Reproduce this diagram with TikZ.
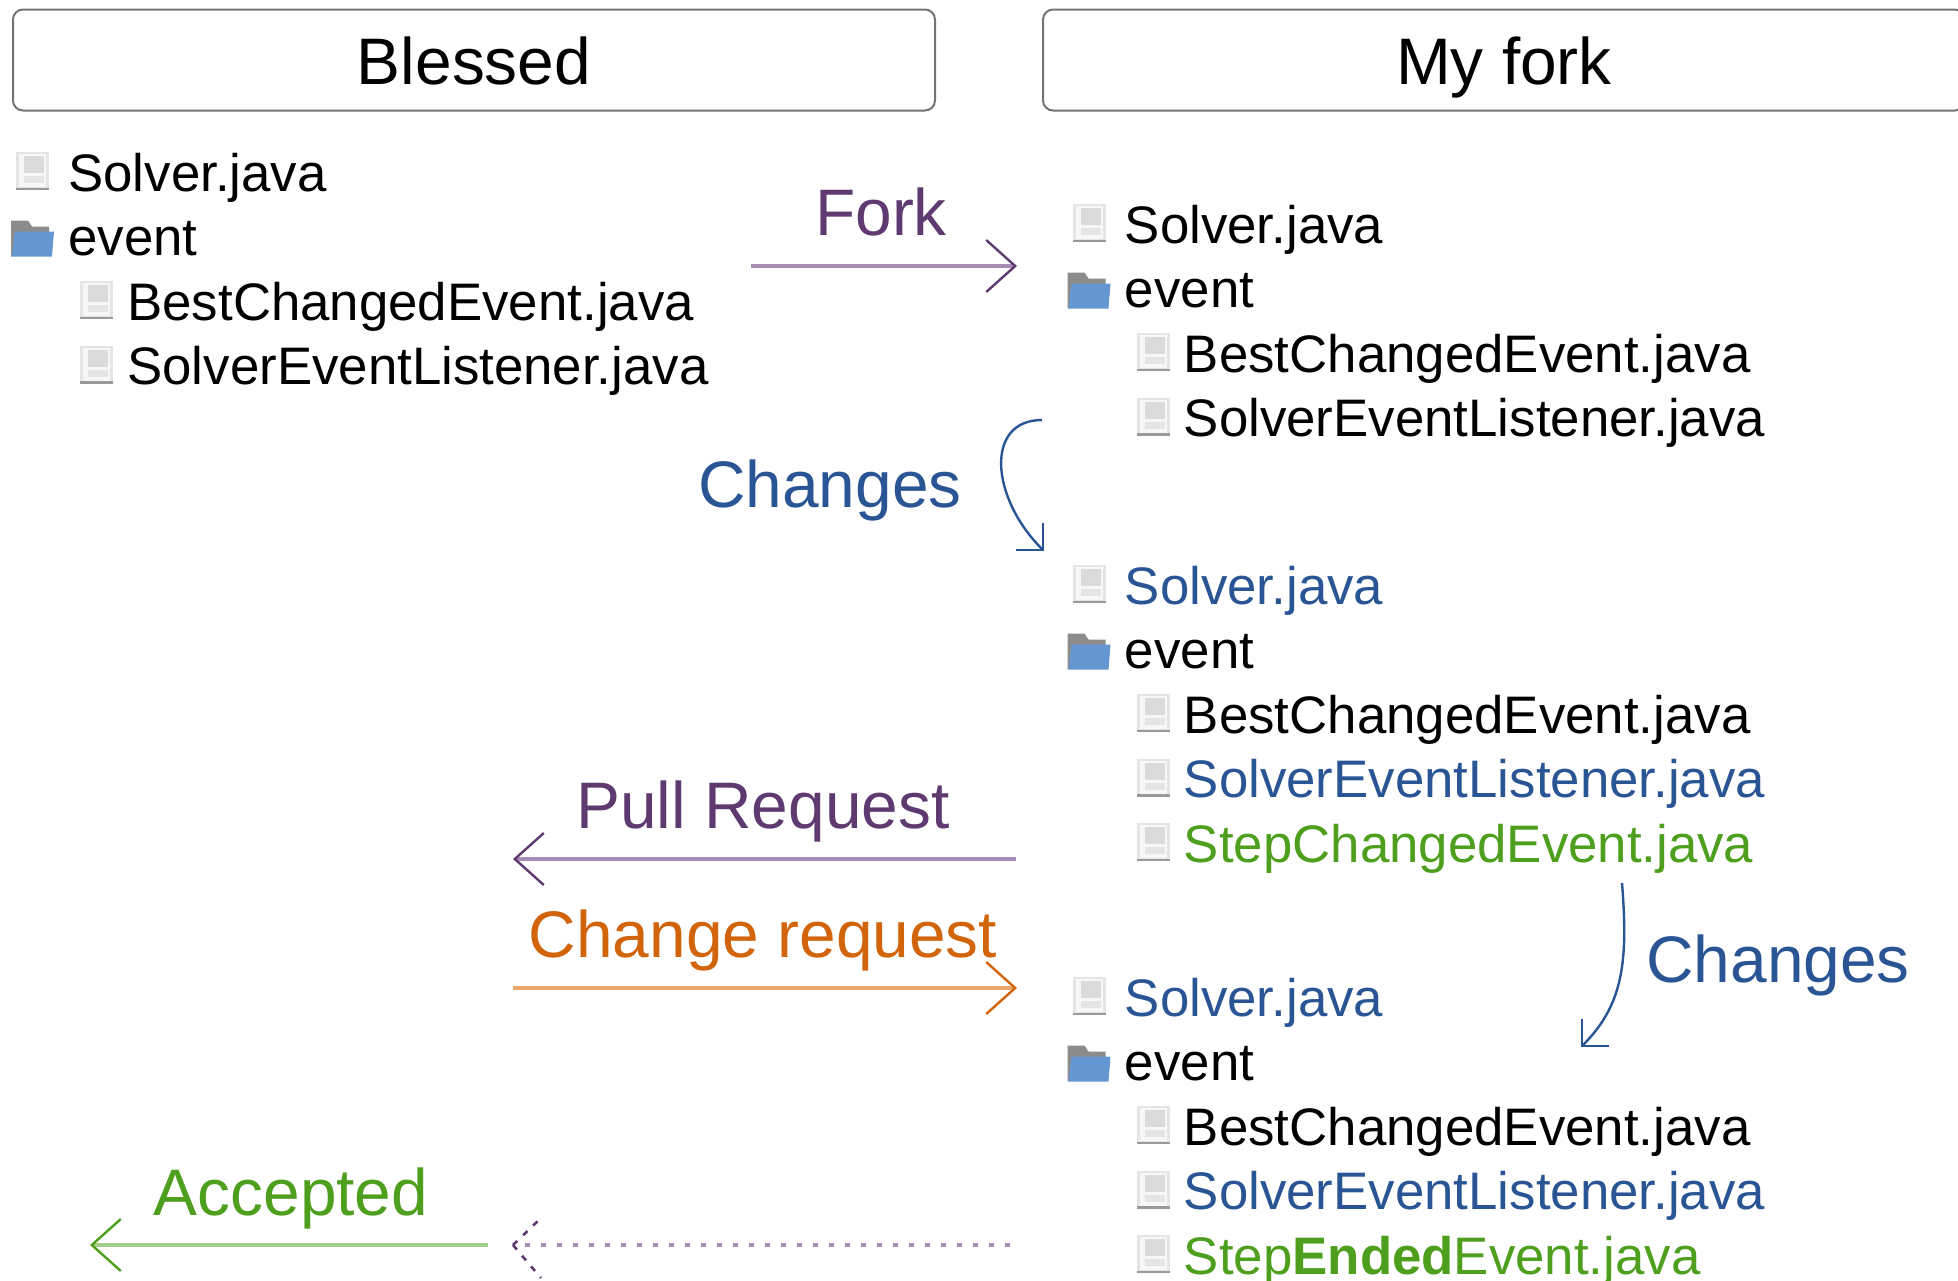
\documentclass[tikz,border=0pt]{standalone}
\usepackage{fontspec}
\setmainfont{Liberation Sans}
\usetikzlibrary{arrows.meta}
\definecolor{forkpurple}{HTML}{5F3A70}
\definecolor{forkline}{HTML}{A88CB4}
\definecolor{changeblue}{HTML}{2A5595}
\definecolor{orangetxt}{HTML}{D2650C}
\definecolor{orangeline}{HTML}{EBA66E}
\definecolor{greentxt}{HTML}{4E9F1E}
\definecolor{greenline}{HTML}{A3CF86}
\definecolor{folderblue}{HTML}{6496D2}
\tikzset{
	filetext/.style={anchor=base west,inner sep=0pt,font=\fontsize{26.4}{26.4}\selectfont},
	caption/.style={anchor=base,inner sep=0pt,font=\fontsize{32.9}{33}\selectfont},
	headbox/.style={draw=black!55,line width=1pt,rounded corners=5pt,inner sep=0pt,
		minimum width=461pt,minimum height=50.5pt,text height=24pt,text depth=0pt,
		font=\fontsize{32.9}{33}\selectfont},
	flow/.style={line width=1.7pt},
	bendflow/.style={line width=1.2pt,changeblue,-{Straight Barb[length=9.5pt,width=19pt,line width=1.2pt]}},
	fileicon/.pic={
		\fill[black!10] (0,0) rectangle (33,38);
		\fill[black!3] (3,2) rectangle (30,35);
		\fill[black!14] (8,4) rectangle (28,21);
		\fill[black!10] (8,24) rectangle (28,31);
		\fill[black!40] (0,35.5) rectangle (33,38);
	},
	foldericon/.pic={
		\fill[black!45] (0,0) -- (17,0) -- (21,6) -- (38,6) -- (38,12) -- (1,36) -- (0,36) -- cycle;
		\fill[folderblue] (4,11) -- (43,11) -- (41,36) -- (1,36) -- cycle;
	}
}
% file line: text x, baseline, nesting 0 or 1, colour, node name, text
\newcommand{\fileline}[6]{
	\path (#1-52+5*#3,#2-39) pic {fileicon};
	\node[filetext,text=#4] (#5) at (#1,#2) {#6};
}
% folder line: text x, baseline, node name
\newcommand{\folderline}[3]{
	\path (#1-57,#2-35) pic {foldericon};
	\node[filetext] (#3) at (#1,#2) {event};
}
\begin{document}
\begin{tikzpicture}[x=0.5pt,y=-0.5pt]
\clip (0,0) rectangle (1958,1280);

\node[headbox] (blessed) at (474,60) {Blessed};
\node[headbox] (myfork) at (1504,60) {My fork};

% blessed tree
\fileline{68}{191}{0}{black}{solverA}{Solver.java}
\folderline{68}{255.5}{eventA}
\fileline{127}{320}{1}{black}{bestA}{BestChangedEvent.java}
\fileline{127}{384.5}{1}{black}{listenerA}{SolverEventListener.java}

% fork, first state
\fileline{1124.5}{243}{0}{black}{solverB}{Solver.java}
\folderline{1124.5}{307.5}{eventB}
\fileline{1183.5}{372}{1}{black}{bestB}{BestChangedEvent.java}
\fileline{1183.5}{436.5}{1}{black}{listenerB}{SolverEventListener.java}

% fork, second state
\fileline{1124.5}{604}{0}{changeblue}{solverC}{Solver.java}
\folderline{1124.5}{668.5}{eventC}
\fileline{1183.5}{733}{1}{black}{bestC}{BestChangedEvent.java}
\fileline{1183.5}{797.5}{1}{changeblue}{listenerC}{SolverEventListener.java}
\fileline{1183.5}{862}{1}{greentxt}{stepC}{StepChangedEvent.java}

% fork, third state
\fileline{1124.5}{1016}{0}{changeblue}{solverD}{Solver.java}
\folderline{1124.5}{1080.5}{eventD}
\fileline{1183.5}{1145}{1}{black}{bestD}{BestChangedEvent.java}
\fileline{1183.5}{1209.5}{1}{changeblue}{listenerD}{SolverEventListener.java}
\fileline{1183.5}{1274}{1}{greentxt}{stepD}{Step\textbf{Ended}Event.java}

\coordinate (forkA) at (751,266);
\coordinate (forkB) at (1017,266);
\coordinate (pullA) at (1016,859);
\coordinate (pullB) at (513,859);
\coordinate (requestA) at (513,988);
\coordinate (requestB) at (1017,988);
\coordinate (acceptA) at (488,1245);
\coordinate (acceptB) at (90,1245);
\coordinate (dotA) at (1010,1245);
\coordinate (dotB) at (513,1245);
\coordinate (dotC) at (541,1218);
\coordinate (dotD) at (541,1278);
\coordinate (bendA) at (1042,420);
\coordinate (bendB) at (1044,551);
\coordinate (bendC) at (1622,883);
\coordinate (bendD) at (1581,1047);

\draw[flow,forkline,-{Straight Barb[length=14.5pt,width=26pt,line width=1.2pt,color=forkpurple]}] (forkA) -- (forkB);
\draw[flow,forkline,-{Straight Barb[length=14.5pt,width=26pt,line width=1.2pt,color=forkpurple]}] (pullA) -- (pullB);
\draw[flow,orangeline,-{Straight Barb[length=14.5pt,width=26pt,line width=1.2pt,color=orangetxt]}] (requestA) -- (requestB);
\draw[flow,greenline,-{Straight Barb[length=14.5pt,width=26pt,line width=1.2pt,color=greentxt]}] (acceptA) -- (acceptB);

\draw[forkline,line width=2.2pt,dash pattern=on 2.6pt off 5.4pt] (dotA) -- (dotB);
\draw[forkpurple,line width=1.3pt,dash pattern=on 3pt off 4pt] (dotB) -- (dotC);
\draw[forkpurple,line width=1.3pt,dash pattern=on 3pt off 4pt] (dotB) -- (dotD);

\draw[bendflow] (bendA) .. controls (985,420) and (990,497) .. (bendB);
\draw[bendflow] (bendC) .. controls (1628,960) and (1624,1004) .. (bendD);

\node[caption,text=forkpurple] (forklabel) at (881,235) {Fork};
\node[caption,text=changeblue] (changesA) at (830,507) {Changes};
\node[caption,text=forkpurple] (pulllabel) at (763,828) {Pull Request};
\node[caption,text=orangetxt] (requestlabel) at (763,957) {Change request};
\node[caption,text=changeblue] (changesB) at (1778,982) {Changes};
\node[caption,text=greentxt] (acceptlabel) at (291,1215) {Accepted};
\end{tikzpicture}
\end{document}
